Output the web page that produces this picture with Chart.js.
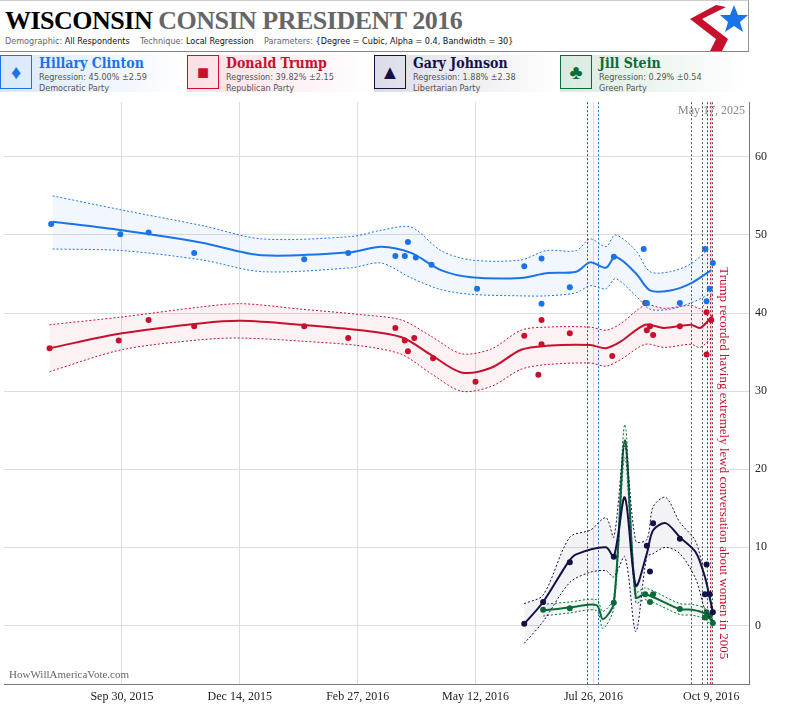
<!DOCTYPE html>
<html><head><meta charset="utf-8">
<script src="https://cdn.jsdelivr.net/npm/chart.js@4.4.0/dist/chart.umd.min.js"></script>
<style>
body{margin:0;width:789px;height:704px;overflow:hidden;background:#fff;font-family:"Liberation Serif",serif;position:relative}
#hdr{position:absolute;left:0;top:0;width:748px;height:50px;border-top:1px solid #ccc;border-right:1px solid #999;border-bottom:1px solid #888}
#title{position:absolute;left:5px;top:5px;font-size:26px;font-weight:bold;font-family:"Liberation Serif",serif;letter-spacing:-0.5px}
#sub{position:absolute;left:5px;top:35px;font-size:9px;color:#666;font-family:"DejaVu Sans Condensed","DejaVu Sans",sans-serif}
#sub b{color:#111;font-weight:normal}
.lg{position:absolute;top:55px;width:186px;height:37px}
.ic{position:absolute;left:0;top:0;width:32px;height:34px;border:1px solid;box-sizing:border-box;font-size:20px;text-align:center;line-height:32px}
.nm{position:absolute;left:39px;top:0;font-size:14px;font-weight:bold;font-family:"DejaVu Serif Condensed","Liberation Serif",serif}
.dt{position:absolute;left:39px;top:17px;font-size:9px;color:#555;line-height:11px;font-family:"DejaVu Sans Condensed",sans-serif}
#wrap{position:absolute;left:0;top:89px;width:789px;height:615px}
</style></head><body>
<div id="hdr"><div id="title">WISCONSIN <span style="color:#666">CONSIN PRESIDENT 2016</span></div>
<div id="sub">Demographic: <b>All Respondents</b> &nbsp;&nbsp;&nbsp;Technique: <b>Local Regression</b> &nbsp;&nbsp;&nbsp;Parameters: <b>{Degree = Cubic, Alpha = 0.4, Bandwidth = 30}</b></div>
<svg style="position:absolute;left:686px;top:2px" width="62" height="48"><polygon points="30,2 4,16 30,36 24,48 36,48 42,36 16,16 40,4" fill="#c8102e"/><polygon points="48,2 52,12 62,12 54,19 57,29 48,23 39,29 42,19 34,12 44,12" fill="#1a73e8"/></svg>
</div>
<div class="lg" style="left:0;background:linear-gradient(90deg,#d8e8fb,#fff)"><div class="ic" style="border-color:#1a73e8;color:#1a73e8">&#9830;</div><div class="nm" style="color:#1a73e8">Hillary Clinton</div><div class="dt">Regression: 45.00% ±2.59<br>Democratic Party</div></div>
<div class="lg" style="left:187px;background:linear-gradient(90deg,#fbdfe4,#fff)"><div class="ic" style="border-color:#c8102e;color:#c8102e">&#9632;</div><div class="nm" style="color:#c8102e">Donald Trump</div><div class="dt">Regression: 39.82% ±2.15<br>Republican Party</div></div>
<div class="lg" style="left:374px;background:linear-gradient(90deg,#dcdce6,#fff)"><div class="ic" style="border-color:#14104a;color:#14104a">&#9650;</div><div class="nm" style="color:#14104a">Gary Johnson</div><div class="dt">Regression: 1.88% ±2.38<br>Libertarian Party</div></div>
<div class="lg" style="left:560px;background:linear-gradient(90deg,#d8ebe0,#fff)"><div class="ic" style="border-color:#0b6b3a;color:#0b6b3a">&#9827;</div><div class="nm" style="color:#0b6b3a">Jill Stein</div><div class="dt">Regression: 0.29% ±0.54<br>Green Party</div></div>
<div id="wrap"><canvas id="c"></canvas></div>
<script>
// x values are days since Sep 30, 2015
const xTickDays=[0,75,150,225,300,375];
const xTickLabels=["Sep 30, 2015","Dec 14, 2015","Feb 27, 2016","May 12, 2016","Jul 26, 2016","Oct 9, 2016"];
const yTicks=[0,10,20,30,40,50,60];

const clintonLine=[[-44,51.7],[0,50.6],[51,49],[89,47.4],[146,47.8],[165,48.5],[184,47.7],[203,45.5],[222,44.6],[254,44.5],[270,45.1],[289,45.3],[298,46.5],[308,45.8],[314,47.2],[327,45.1],[336,42.9],[349,42.9],[362,43.8],[375,45.5]];
const clintonUp=[[-44,55],[0,53.2],[51,51.2],[89,49.5],[146,49.8],[165,50.6],[184,51],[203,48],[222,46.8],[254,46.8],[270,48],[289,48],[298,49.5],[308,48.5],[314,50],[327,48],[336,45.3],[349,45.3],[362,46.3],[375,48.5]];
const clintonLo=[[-44,48.2],[0,48],[51,46.8],[89,45.3],[146,45.8],[165,46.4],[184,44.5],[203,43],[222,42.4],[254,42.2],[270,42.2],[289,42.6],[298,43.5],[308,43.1],[314,44.4],[327,42.2],[336,40.5],[349,40.5],[362,41.3],[375,42.5]];
const clintonPts=[[-45,51.4],[-1,50.1],[17,50.3],[46,47.7],[116,46.9],[144,47.7],[174,47.3],[180,47.3],[182,49.1],[187,47.1],[197,46.2],[226,43.1],[256,46],[267,47],[267,41.2],[285,43.3],[313,47.2],[332,48.2],[334,41.3],[355,41.3],[371,48.2],[372,41.5],[374,43.1],[376,46.4]];

const trumpLine=[[-46,35.5],[0,37.4],[51,38.7],[76,39],[114,38.5],[152,37.8],[178,36.9],[197,34.6],[216,32.4],[235,33],[254,35.3],[270,35.8],[298,35.9],[308,35.5],[317,36.3],[333,38.5],[345,38.1],[362,38.5],[368,38.1],[376,39.7]];
const trumpUp=[[-46,38.5],[0,39.5],[51,40.8],[76,41.2],[114,40.5],[152,39.8],[178,39.1],[197,37],[216,34.8],[235,35.4],[254,37.8],[270,38.2],[298,38.2],[308,37.8],[317,38.6],[333,41],[345,40.6],[362,41],[368,40.6],[376,42.5]];
const trumpLo=[[-46,32.5],[0,35.3],[51,36.6],[76,36.8],[114,36.4],[152,35.8],[178,34.7],[197,32.2],[216,30],[235,30.6],[254,32.8],[270,33.4],[298,33.6],[308,33.2],[317,34],[333,36],[345,35.6],[362,36],[368,35.6],[376,37]];
const trumpPts=[[-46,35.5],[-2,36.5],[17,39.1],[46,38.3],[116,38.3],[144,36.8],[174,38.1],[180,36.5],[182,35.1],[186,36.8],[198,34.2],[225,31.2],[256,37.1],[265,32.1],[267,39.1],[267,36],[285,37.4],[312,34.5],[333,41.3],[334,37.8],[336,38.3],[338,37.2],[355,38.3],[372,40.1],[372,34.7],[375,39.1]];

const johnsonLine=[[256,0.2],[268,3],[284,8.1],[289,9.1],[308,10],[313,8.8],[320,16.4],[327,5.1],[334,9.2],[338,12.2],[346,13.1],[355,11.3],[365,9.4],[371,6.2],[373,4.5],[376,1.7]];
const johnsonUp=[[256,2.8],[268,3.9],[285,11.3],[298,12.2],[308,13.8],[313,11.3],[320,23],[327,10.8],[334,11],[338,15.2],[346,16.4],[355,13.2],[365,10.8],[371,6],[376,2]];
const johnsonLo=[[256,-2.3],[268,0.5],[285,5.5],[298,6.8],[308,7],[313,6.2],[320,8.8],[327,-0.8],[334,8.8],[338,9.2],[346,10],[355,9.2],[365,6],[371,2],[376,0.5]];
const johnsonPts=[[256,0.2],[268,3],[285,8.1],[313,8.8],[334,10.2],[336,6.9],[338,13.1],[355,11.1],[372,7.8],[371,4],[374,4],[376,1.7]];

const steinLine=[[268,1.9],[285,2.3],[302,2.6],[306,0.8],[313,2.9],[320,23.7],[327,3.6],[333,4],[355,2.1],[363,2],[371,1.5],[376,0.4]];
const steinUp=[[268,2.7],[285,3],[302,3.3],[306,1.8],[313,3.6],[320,25.7],[327,4.3],[333,4.8],[355,2.8],[363,2.7],[371,2.2],[376,1.2]];
const steinLo=[[268,1.2],[285,1.6],[302,1.9],[306,-0.4],[313,2.2],[320,21.5],[327,2.9],[333,3.3],[355,1.4],[363,1.3],[371,0.8],[376,-0.2]];
const steinPts=[[268,2],[285,2.2],[313,2.9],[333,4],[336,3],[338,4],[355,2.1],[371,1],[372,1.7],[374,1.2],[376,0.3]];

const vLines=[[296,'#c8102e'],[303,'#1a73e8'],[362,'#555'],[369,'#555'],[372,'#c8102e'],[374,'#c8102e'],[375.5,'#555']];

const xy=a=>a.map(p=>({x:p[0],y:p[1]}));
function cand(line,up,lo,pts,col,fillc){
 return [
  {data:xy(up),borderColor:col,borderWidth:1,borderDash:[2,2],pointRadius:0,fill:false,tension:0.3},
  {data:xy(lo),borderColor:col,borderWidth:1,borderDash:[2,2],pointRadius:0,fill:'-1',backgroundColor:fillc,tension:0.3},
  {data:xy(line),borderColor:col,borderWidth:2,pointRadius:0,fill:false,tension:0.3},
  {data:xy(pts),showLine:false,pointRadius:3,pointBackgroundColor:col,pointBorderWidth:0}
 ];
}
const ann={id:'ann',beforeDatasetsDraw(ch){const {ctx,chartArea:a,scales:{x}}=ch;ctx.save();ctx.lineWidth=1;ctx.setLineDash([2,2]);
 vLines.forEach(v=>{const px=Math.round(x.getPixelForValue(v[0]))+0.5;ctx.strokeStyle=v[1];ctx.beginPath();ctx.moveTo(px,a.top);ctx.lineTo(px,a.bottom);ctx.stroke();});ctx.restore();},
 afterDraw(ch){const {ctx,chartArea:a,scales:{x}}=ch;ctx.save();
 ctx.font='12px "Liberation Serif",serif';ctx.fillStyle='#888';ctx.textAlign='right';ctx.fillText('May 17, 2025',a.right-4,a.top+12);
 ctx.textAlign='left';ctx.fillStyle='#666';ctx.font='11px "Liberation Serif",serif';ctx.fillText('HowWillAmericaVote.com',a.left+5,a.bottom-6);
 const px=x.getPixelForValue(376)+4;ctx.translate(px,a.top+165);ctx.rotate(Math.PI/2);ctx.fillStyle='#c8102e';ctx.font='13px "Liberation Serif",serif';ctx.textAlign='left';ctx.textBaseline='bottom';
 ctx.fillText('Trump recorded having extremely lewd conversation about women in 2005',0,0);ctx.restore();}};
new Chart(document.getElementById('c'),{type:'line',
 data:{datasets:[...cand(clintonLine,clintonUp,clintonLo,clintonPts,'#1a73e8','rgba(26,115,232,0.06)'),
  ...cand(trumpLine,trumpUp,trumpLo,trumpPts,'#c8102e','rgba(200,16,46,0.06)'),
  ...cand(johnsonLine,johnsonUp,johnsonLo,johnsonPts,'#14104a','rgba(20,16,74,0.05)'),
  ...cand(steinLine,steinUp,steinLo,steinPts,'#0b6b3a','rgba(11,107,58,0.06)')]},
 options:{animation:false,responsive:true,maintainAspectRatio:false,
  layout:{padding:{left:1,right:14,top:0,bottom:0}},
  plugins:{legend:{display:false},tooltip:{enabled:false}},
  scales:{
   x:{type:'linear',min:-75,max:399,border:{color:'#777'},grid:{color:'#ddd',drawTicks:false},
    afterBuildTicks:s=>{s.ticks=xTickDays.map(v=>({value:v}));},
    afterFit:s=>{s.height=20;},
    ticks:{padding:6,color:'#222',font:{family:'"Liberation Serif",serif',size:12},callback:v=>xTickLabels[xTickDays.indexOf(v)]}},
   y:{position:'right',min:-7.5,max:67,border:{color:'#777'},grid:{color:'#ddd',drawTicks:false},
    afterBuildTicks:s=>{s.ticks=yTicks.map(v=>({value:v}));},
    afterFit:s=>{s.width=26;},
    ticks:{padding:6,color:'#222',font:{family:'"Liberation Serif",serif',size:12}}}}},
 plugins:[ann]});
</script></body></html>
